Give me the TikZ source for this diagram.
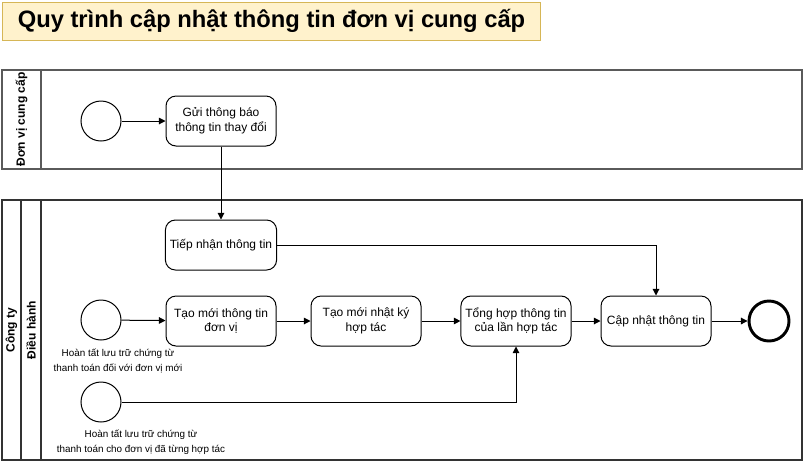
\documentclass[tikz,border=0pt]{standalone}
\usepackage{fontspec}
\setmainfont{Liberation Sans}
\usetikzlibrary{arrows.meta}
\definecolor{titlefill}{HTML}{FFF2CC}
\definecolor{titledraw}{HTML}{D6B656}
\definecolor{lanegray}{HTML}{5A5A5A}
\begin{document}
\begin{tikzpicture}[x=0.75pt,y=-0.75pt,
  taskbox/.style={draw,rounded corners=7.5pt,minimum width=82.5pt,minimum height=37.5pt,align=center,font=\fontsize{9}{11}\selectfont,line width=0.75pt},
  startev/.style={draw,circle,minimum size=30pt,inner sep=0pt,line width=0.75pt},
  endev/.style={draw,circle,minimum size=30pt,inner sep=0pt,line width=2.2pt},
  flow/.style={-{Triangle[length=5pt,width=5pt]},line width=0.75pt},
  lane/.style={draw=lanegray,line width=1.5pt},
  hdr/.style={font=\bfseries\fontsize{9}{11}\selectfont,rotate=90},
  evlabel/.style={font=\fontsize{7.4}{11.2}\selectfont,align=center}]
\useasboundingbox (0,0) rectangle (803,462);
% title
\node[draw=titledraw,fill=titlefill,line width=0.75pt,minimum width=404pt,minimum height=28.5pt,inner sep=0pt,font=\bfseries\fontsize{17.8}{20}\selectfont] (title) at (271.5,21) {Quy trình cập nhật thông tin đơn vị cung cấp};
% pool 1
\draw[lane] (2,70) rectangle (802,169);
\draw[lane] (41,70) -- (41,169);
\node[hdr] (p1) at (21.5,119.5) {Đơn vị cung cấp};
% pool 2
\draw[lane,draw=black!80] (2,200) rectangle (802,460);
\draw[lane,draw=black!80] (21,200) -- (21,460);
\draw[lane,draw=black!80] (41,200) -- (41,460);
\node[hdr] (p2) at (11.5,330) {Công ty};
\node[hdr] (l2) at (31,330) {Điều hành};
% nodes
\node[startev] (s1) at (101,121) {};
\node[taskbox] (gui) at (221,121) {Gửi thông báo\\thông tin thay đổi};
\node[taskbox] (tiep) at (221,245) {Tiếp nhận thông tin};
\node[startev] (s2) at (101,320) {};
\node[taskbox] (taott) at (221,321) {Tạo mới thông tin\\đơn vị};
\node[taskbox] (taonk) at (366,321) {Tạo mới nhật ký\\hợp tác};
\node[taskbox] (tong) at (516,321) {Tổng hợp thông tin\\của lần hợp tác};
\node[taskbox] (cap) at (656,321) {Cập nhật thông tin};
\node[endev] (e) at (769,321) {};
\node[startev] (s3) at (101,402) {};
\node[evlabel] (l1) at (118,360.5) {Hoàn tất lưu trữ chứng từ\\thanh toán đối với đơn vị mới};
\node[evlabel] (l3) at (141,442.5) {Hoàn tất lưu trữ chứng từ\\thanh toán cho đơn vị đã từng hợp tác};
% flows
\draw[flow] (s1) -- (gui);
\draw[flow] (gui) -- (tiep);
\draw[flow] (tiep.east) -| (cap.north);
\draw[flow] (s2) -- (taott);
\draw[flow] (taott) -- (taonk);
\draw[flow] (taonk) -- (tong);
\draw[flow] (tong) -- (cap);
\draw[flow] (cap) -- (e);
\draw[flow] (s3.east) -| (tong.south);
\end{tikzpicture}
\end{document}
